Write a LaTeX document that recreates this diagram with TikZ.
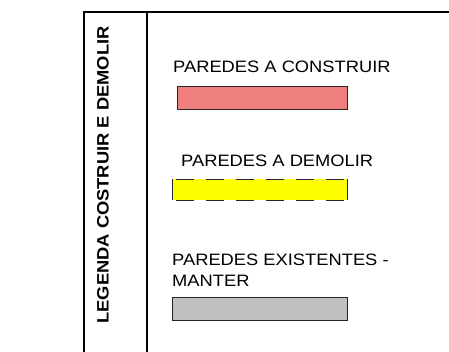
\documentclass[tikz,border=0pt]{standalone}
\usepackage{fontspec}
\setmainfont[FakeStretch=1.11]{Liberation Sans}
\usetikzlibrary{positioning,calc}

\definecolor{construir}{HTML}{F08080}
\definecolor{demolir}{HTML}{FFFF00}
\definecolor{manter}{HTML}{C0C0C0}

\begin{document}
\begin{tikzpicture}[x=1pt,y=1pt,
    swatch/.style={draw=black!85, line width=0.9pt},
    legtext/.style={anchor=base west, inner sep=0pt, font=\fontsize{16.5}{21}\selectfont}]
    \useasboundingbox (0,0) rectangle (449,352);

    % Frame
    \draw [line width=1.2pt] (84,0) -- (84,340) -- (449,340);
    \draw [line width=1.2pt] (147,0) -- (147,340);

    % Title
    \node [rotate=90, font=\fontsize{16.5}{20}\selectfont\bfseries] (titulo) at (103,177) {LEGENDA COSTRUIR E DEMOLIR};

    % Labels
    \node [legtext] (construir) at (173,279) {PAREDES A CONSTRUIR};
    \node [legtext] (demolir) at (181,185) {PAREDES A DEMOLIR};
    \node [legtext, align=left] (manter) at (172,65) {PAREDES EXISTENTES -\\MANTER};

    % Swatches
    \draw [swatch, fill=construir] (177,243) rectangle (347,266);
    \fill [demolir] (172,152) rectangle (347,173);
    \draw [swatch] (172,152) -- (172,173) (347,152) -- (347,173);
    \draw [swatch, dash pattern=on 18pt off 12pt, dash phase=26pt] (172,173) -- (347,173) (172,152) -- (347,152);
    \draw [swatch, fill=manter] (172,32) rectangle (347,55);

\end{tikzpicture}
\end{document}
